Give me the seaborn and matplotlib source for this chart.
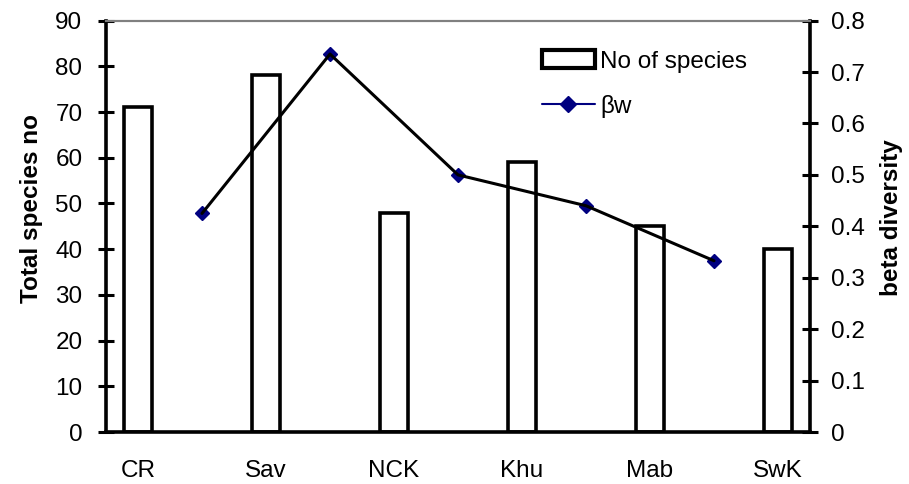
import matplotlib
matplotlib.use("Agg")
import matplotlib.pyplot as plt
import seaborn as sns
import pandas as pd
from matplotlib.patches import Patch
from matplotlib.lines import Line2D

# data
sites = ["CR", "Sav", "NCK", "Khu", "Mab", "SwK"]
species_no = [71, 78, 48, 59, 45, 40]
beta_w = [0.425, 0.735, 0.50, 0.44, 0.333]

bar_pos = [2 * i for i in range(len(sites))]
line_pos = [2 * i + 1 for i in range(len(beta_w))]

bars = pd.DataFrame({"pos": bar_pos, "species": species_no})
beta = pd.DataFrame({"pos": line_pos, "beta": beta_w})

sns.set_theme(style="white")
plt.rcParams["font.family"] = ["Liberation Sans", "DejaVu Sans"]
plt.rcParams.update({"text.color": "black", "axes.labelcolor": "black",
                     "xtick.color": "black", "ytick.color": "black"})
FS = 17.5

fig = plt.figure(figsize=(9.09, 4.84), dpi=100)
ax = fig.add_axes([0.1166, 0.1074, 0.7745, 0.850])

sns.barplot(data=bars, x="pos", y="species", native_scale=True, width=0.22,
            color="white", edgecolor="black", linewidth=2.6, ax=ax)

ax2 = ax.twinx()
ax2.plot(beta["pos"], beta["beta"], linestyle="none", marker="D",
         markersize=7, color="#000080", zorder=2)
sns.lineplot(data=beta, x="pos", y="beta", color="black", linewidth=2.2,
             ax=ax2, zorder=3)

ax.set_xlim(-0.5, 10.5)
ax.set_ylim(0, 90)
ax2.set_ylim(0, 0.8)
ax.set_yticks(range(0, 91, 10))
ax2.set_yticks([i / 10 for i in range(9)])
ax2.set_yticklabels(["0"] + [f"{i / 10:.1f}" for i in range(1, 9)])

ax.set_xticks([i - 0.5 for i in range(12)])
ax.set_xticklabels([""] * 12)
ax.set_xticks(bar_pos, minor=True)
ax.set_xticklabels(sites, minor=True)
ax.tick_params(axis="x", which="minor", length=0, pad=20, labelsize=FS)
ax.tick_params(axis="x", which="major", direction="inout", length=12, width=2.2)
ax.tick_params(axis="y", direction="inout", length=12, width=2.2, pad=11, labelsize=FS)
ax2.tick_params(axis="y", direction="inout", length=12, width=2.2, pad=9, labelsize=FS)

ax.set_xlabel("")
ax.set_ylabel("Total species no", fontsize=FS, fontweight="bold")
ax2.set_ylabel("beta diversity", fontsize=FS, fontweight="bold")
ax.yaxis.set_label_coords(-0.09, 0.543)
ax2.yaxis.set_label_coords(1.100, 0.52)

for a in (ax, ax2):
    for side in ("left", "right", "bottom"):
        a.spines[side].set_linewidth(2.6)
        a.spines[side].set_color("black")
    a.spines["top"].set_linewidth(1.5)
    a.spines["top"].set_color("#808080")
ax.spines["right"].set_visible(False)
ax2.spines["left"].set_visible(False)
ax2.spines["bottom"].set_visible(False)

handles = [Patch(facecolor="white", edgecolor="black", linewidth=3),
           Line2D([0], [0], color="#000080", linewidth=1.5, marker="D", markersize=8)]
ax2.legend(handles, ["No of species", "βw"], loc="upper left",
           bbox_to_anchor=(0.605, 0.951), borderaxespad=0, frameon=False,
           fontsize=FS, handlelength=2.2, handletextpad=0.2, labelspacing=0.92)

fig.savefig("out.png", dpi=100)
